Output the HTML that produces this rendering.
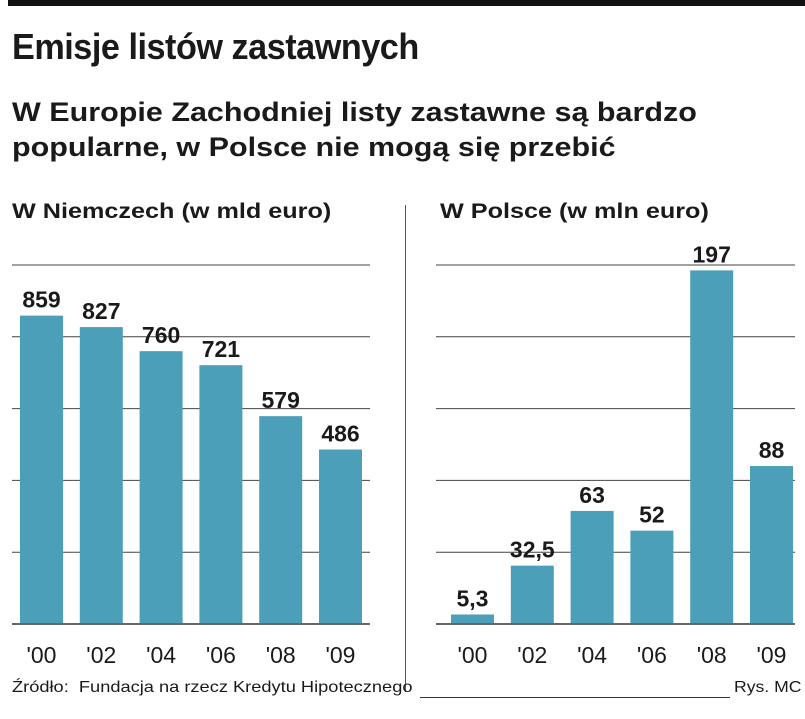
<!DOCTYPE html>
<html><head><meta charset="utf-8"><style>
body{margin:0;background:#fff;width:805px;height:719px;overflow:hidden;position:relative;font-family:"Liberation Sans",sans-serif;}
.t{position:absolute;white-space:nowrap;color:#1a1a1a}
</style></head><body>
<div style="position:absolute;left:8px;top:0;width:797px;height:6px;background:#111"></div>
<div class="t" style="left:12px;top:26px;font-size:36px;font-weight:bold;transform:scaleX(0.95);transform-origin:left;letter-spacing:-0.5px">Emisje listów zastawnych</div>
<div class="t" style="left:12px;top:95px;font-size:27px;font-weight:bold;line-height:35px;transform:scaleX(1.13);transform-origin:left">W Europie Zachodniej listy zastawne są bardzo<br>popularne, w Polsce nie mogą się przebić</div>
<div class="t" style="left:12px;top:200px;font-size:21px;font-weight:bold;transform:scaleX(1.2);transform-origin:left">W Niemczech (w mld euro)</div>
<div class="t" style="left:440px;top:200px;font-size:21px;font-weight:bold;transform:scaleX(1.2);transform-origin:left">W Polsce (w mln euro)</div>
<div style="position:absolute;left:405px;top:205px;width:1px;height:487px;background:#555"></div>
<svg id="chart" width="805" height="719" style="position:absolute;left:0;top:0"></svg>
<div class="t" style="left:12px;top:679px;font-size:16px;transform:scaleX(1.14);transform-origin:left">Źródło:&nbsp; Fundacja na rzecz Kredytu Hipotecznego</div>
<div style="position:absolute;left:420px;top:697px;width:310px;height:1px;background:#333"></div>
<div class="t" style="left:734px;top:679px;font-size:16px;transform:scaleX(1.1);transform-origin:left">Rys. MC</div>
<script>
const yearsDE=["'00","'02","'04","'06","'08","'09"];
const valuesDE=[859,827,760,721,579,486];
const labelsDE=["859","827","760","721","579","486"];
const yearsPL=["'00","'02","'04","'06","'08","'09"];
const valuesPL=[5.3,32.5,63,52,197,88];
const labelsPL=["5,3","32,5","63","52","197","88"];
const svg=document.getElementById('chart');
const NS='http://www.w3.org/2000/svg';
function mk(t,a){const e=document.createElementNS(NS,t);for(const k in a)e.setAttribute(k,a[k]);svg.appendChild(e);return e;}
function panel(cats,vals,labels,max,x0,x1,barX0,prefix){
  const base=624,top=265;
  const y=v=>base-(v/max)*(base-top);
  for(let i=1;i<=5;i++){const gy=base-i*(base-top)/5;
    const g=mk('line',{x1:x0,x2:x1,y1:gy,y2:gy,stroke:'#444','stroke-width':1});
    
    }
  const step=59.8,bw=43;
  vals.forEach((v,i)=>{
    const bx=barX0+i*step;
    const r=mk('rect',{x:bx,y:y(v),width:bw,height:base-y(v),fill:'#4b9fb9'});
    
    
    const t=mk('text',{x:bx+bw/2,y:y(v)-8,'text-anchor':'middle','font-size':23,'font-weight':'bold','font-family':'Liberation Sans',fill:'#1a1a1a'});
    t.textContent=labels[i];
    
    
    const c=mk('text',{x:bx+bw/2,y:663,'text-anchor':'middle','font-size':23,'font-family':'Liberation Sans',fill:'#1a1a1a'});
    c.textContent=cats[i];
    
    
  });
  const b=mk('line',{x1:x0,x2:x1,y1:base,y2:base,stroke:'#666','stroke-width':2});
  
  
}
panel(yearsDE,valuesDE,labelsDE,1000,12,370,20,'de');
panel(yearsPL,valuesPL,labelsPL,200,436,795,451,'pl');
</script>
</body></html>
